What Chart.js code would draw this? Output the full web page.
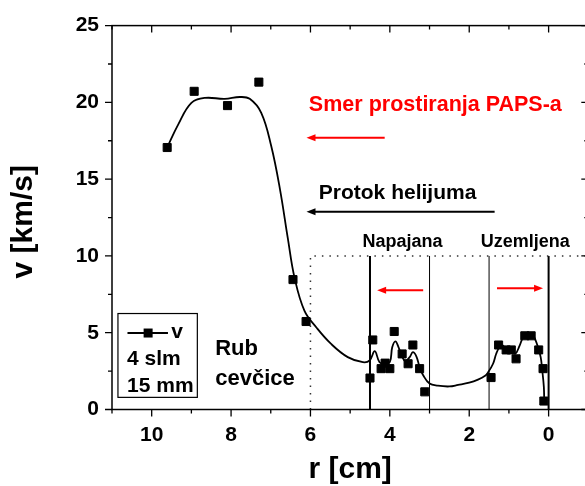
<!DOCTYPE html>
<html>
<head>
<meta charset="utf-8">
<script src="https://cdn.jsdelivr.net/npm/chart.js@4.4.1/dist/chart.umd.min.js"></script>
<style>
  html, body { margin: 0; padding: 0; background: #fff; overflow: hidden; }
  #wrap { width: 585px; height: 486px; overflow: hidden; }
</style>
</head>
<body>
<div id="wrap"><canvas id="chart" width="595" height="486" style="width:595px;height:486px"></canvas></div>
<script>
// measured points (r in cm, v in km/s)
const pointR = [9.61, 8.93, 8.09, 7.30, 6.44, 6.11,
                4.50, 4.43, 4.22, 4.12, 4.00, 3.89, 3.69, 3.54, 3.42, 3.25, 3.12,
                1.45, 1.26, 1.07, 0.94, 0.82, 0.60, 0.44, 0.25, 0.14, 0.12];
const pointV = [17.06, 20.72, 19.79, 21.32, 8.46, 5.73,
                2.05, 4.53, 2.66, 3.02, 2.66, 5.08, 3.62, 2.98, 4.20, 2.66, 1.15,
                2.08, 4.20, 3.88, 3.88, 3.30, 4.80, 4.80, 3.88, 2.66, 0.55];

// smoothed curve
const curveR = [9.61, 9.33, 9.00, 8.66, 8.16, 7.78, 7.53, 7.24, 6.99, 6.77, 6.57, 6.40, 6.15, 5.85,
                5.48, 5.06, 4.68, 4.51, 4.38, 4.26, 4.13, 4.00, 3.94, 3.86, 3.78, 3.69, 3.61, 3.50,
                3.42, 3.33, 3.25, 3.16, 3.00, 2.79, 2.50, 2.28, 2.00, 1.78, 1.60, 1.53, 1.40, 1.32,
                1.23, 1.15, 1.07, 0.94, 0.84, 0.73, 0.64, 0.52, 0.39, 0.28, 0.20, 0.16, 0.12, 0.11];
const curveV = [17.06, 18.57, 19.97, 20.29, 20.23, 20.35, 20.23, 19.32, 17.17, 14.37, 11.15, 8.57, 6.42, 5.34,
                4.27, 3.41, 3.08, 3.19, 3.80, 3.08, 2.98, 3.10, 4.05, 4.44, 4.05, 3.45, 3.15, 3.41,
                3.73, 3.45, 2.76, 2.23, 1.69, 1.55, 1.50, 1.60, 1.75, 1.95, 2.20, 2.40, 2.98, 3.63,
                4.10, 4.16, 3.88, 3.88, 3.63, 4.16, 4.70, 4.92, 4.81, 4.16, 3.41, 2.55, 1.47, 0.50];

// electrode boundaries and the dotted region
const boundaryR = [4.5, 3, 1.5, 0];
const boundaryTop = 10;
const regionR = [6, 6, -1];
const regionV = [0, 10, 10];

const xTickValues = [10, 8, 6, 4, 2, 0];
const yTickValues = [0, 5, 10, 15, 20, 25];

const FONT = '"Liberation Sans", Arial, sans-serif';

const notes = [
  { text: 'Smer prostiranja PAPS-a', r: 6.04, v: 19.45, size: 21.5, color: '#ff0000', align: 'left' },
  { text: 'Protok helijuma', r: 5.79, v: 13.69, size: 21, color: '#000', align: 'left' },
  { text: 'Napajana', r: 3.68, v: 10.55, size: 18, color: '#000', align: 'center' },
  { text: 'Uzemljena', r: 0.59, v: 10.55, size: 18, color: '#000', align: 'center' },
  { text: 'Rub', r: 8.40, v: 3.52, size: 22, color: '#000', align: 'left' },
  { text: 'cevčice', r: 8.40, v: 1.58, size: 22, color: '#000', align: 'left' },
  { text: 'v', r: 9.51, v: 4.63, size: 21, color: '#000', align: 'left' },
  { text: '4 slm', r: 10.62, v: 2.87, size: 21, color: '#000', align: 'left' },
  { text: '15 mm', r: 10.62, v: 1.15, size: 21, color: '#000', align: 'left' }
];

const arrows = [
  { from: 4.13, to: 6.10, v: 17.7, color: '#ff0000' },
  { from: 1.36, to: 6.10, v: 12.87, color: '#000' },
  { from: 3.16, to: 4.32, v: 7.77, color: '#ff0000' },
  { from: 1.30, to: 0.14, v: 7.90, color: '#ff0000' }
];

const legendBox = { r1: 10.85, r2: 8.85, v1: 6.25, v2: 0.79, lineR1: 10.61, lineR2: 9.59, lineV: 4.98, markR: 10.09 };

const toXY = (rs, vs) => rs.map((r, i) => ({ x: r, y: vs[i] }));

const datasets = [
  {
    type: 'line',
    data: toXY(curveR, curveV),
    borderColor: '#000',
    borderWidth: 1.8,
    pointRadius: 0,
    tension: 0.4,
    fill: false
  },
  {
    type: 'scatter',
    data: toXY(pointR, pointV),
    pointStyle: 'rect',
    pointRadius: 5.7,
    pointBorderWidth: 1,
    backgroundColor: '#000',
    borderColor: '#000'
  },
  {
    type: 'line',
    data: toXY(regionR, regionV),
    borderColor: '#333',
    borderWidth: 1.5,
    borderDash: [1.5, 6],
    pointRadius: 0,
    tension: 0,
    fill: false
  }
];

boundaryR.forEach((r, i) => {
  datasets.push({
    type: 'line',
    data: [{ x: r, y: 0 }, { x: r, y: boundaryTop }],
    borderColor: '#000',
    borderWidth: (i === 0 || i === 3) ? 2 : 1,
    pointRadius: 0,
    fill: false
  });
});

// frame, ticks and annotations drawn on top of the scales
const decor = {
  id: 'decor',
  afterDraw(chart) {
    const ctx = chart.ctx;
    const xs = chart.scales.x, ys = chart.scales.y;
    const a = chart.chartArea;
    const px = r => xs.getPixelForValue(r);
    const py = v => ys.getPixelForValue(v);

    ctx.save();
    ctx.strokeStyle = '#000';
    ctx.lineWidth = 1.5;
    ctx.strokeRect(a.left, a.top, a.right - a.left, a.bottom - a.top);

    ctx.lineWidth = 1.3;
    ctx.beginPath();
    for (let r = -1; r <= 11; r++) {
      const len = r % 2 === 0 ? 7 : 4;
      const x = px(r);
      ctx.moveTo(x, a.bottom); ctx.lineTo(x, a.bottom + len);
      ctx.moveTo(x, a.top); ctx.lineTo(x, a.top + len);
    }
    for (let v = 0; v <= 25; v += 2.5) {
      const len = v % 5 === 0 ? 7 : 4;
      const y = py(v);
      ctx.moveTo(a.left, y); ctx.lineTo(a.left - len, y);
      ctx.moveTo(a.right, y); ctx.lineTo(a.right - len, y);
    }
    ctx.stroke();

    // arrows
    arrows.forEach(ar => {
      const x1 = px(ar.from), x2 = px(ar.to), y = py(ar.v);
      const dir = x2 < x1 ? 1 : -1;
      ctx.strokeStyle = ar.color;
      ctx.fillStyle = ar.color;
      ctx.lineWidth = 2;
      ctx.beginPath();
      ctx.moveTo(x1, y); ctx.lineTo(x2 + dir * 6, y);
      ctx.stroke();
      ctx.beginPath();
      ctx.moveTo(x2, y);
      ctx.lineTo(x2 + dir * 9, y - 3.5);
      ctx.lineTo(x2 + dir * 9, y + 3.5);
      ctx.closePath();
      ctx.fill();
    });

    // legend box
    ctx.strokeStyle = '#000';
    ctx.lineWidth = 1.2;
    ctx.strokeRect(px(legendBox.r1), py(legendBox.v1), px(legendBox.r2) - px(legendBox.r1), py(legendBox.v2) - py(legendBox.v1));
    ctx.lineWidth = 2;
    ctx.beginPath();
    ctx.moveTo(px(legendBox.lineR1), py(legendBox.lineV));
    ctx.lineTo(px(legendBox.lineR2), py(legendBox.lineV));
    ctx.stroke();
    ctx.fillStyle = '#000';
    ctx.fillRect(px(legendBox.markR) - 4.5, py(legendBox.lineV) - 4.5, 9, 9);

    // texts
    ctx.textBaseline = 'alphabetic';
    notes.forEach(n => {
      ctx.font = 'bold ' + n.size + 'px ' + FONT;
      ctx.fillStyle = n.color;
      ctx.textAlign = n.align;
      ctx.fillText(n.text, px(n.r), py(n.v));
    });
    ctx.restore();
  }
};

new Chart(document.getElementById('chart').getContext('2d'), {
  type: 'line',
  data: { datasets: datasets },
  options: {
    responsive: false,
    animation: false,
    layout: { padding: { left: 0, top: 22, right: 5, bottom: 0 } },
    plugins: { legend: { display: false }, tooltip: { enabled: false } },
    scales: {
      x: {
        type: 'linear',
        reverse: true,
        min: -1,
        max: 11,
        afterBuildTicks: s => { s.ticks = xTickValues.map(v => ({ value: v })); },
        afterFit: s => { s.height = 76.5; },
        grid: { display: false, drawTicks: false },
        border: { display: false },
        ticks: { color: '#000', padding: 13, font: { family: FONT, size: 21, weight: 'bold' } },
        title: {
          display: true, text: 'r [cm]', color: '#000',
          padding: { top: 0, bottom: 1.5 },
          font: { family: FONT, size: 30, weight: 'bold', lineHeight: 1 }
        }
      },
      y: {
        type: 'linear',
        min: 0,
        max: 25,
        afterBuildTicks: s => { s.ticks = yTickValues.map(v => ({ value: v })); },
        afterFit: s => { s.width = 112; },
        grid: { display: false, drawTicks: false },
        border: { display: false },
        ticks: { color: '#000', padding: 13, font: { family: FONT, size: 21, weight: 'bold' } },
        title: {
          display: true, text: 'v [km/s] ', color: '#000',
          padding: { top: 9, bottom: 0 },
          font: { family: FONT, size: 30, weight: 'bold', lineHeight: 1 }
        }
      }
    }
  },
  plugins: [decor]
});
</script>
</body>
</html>
